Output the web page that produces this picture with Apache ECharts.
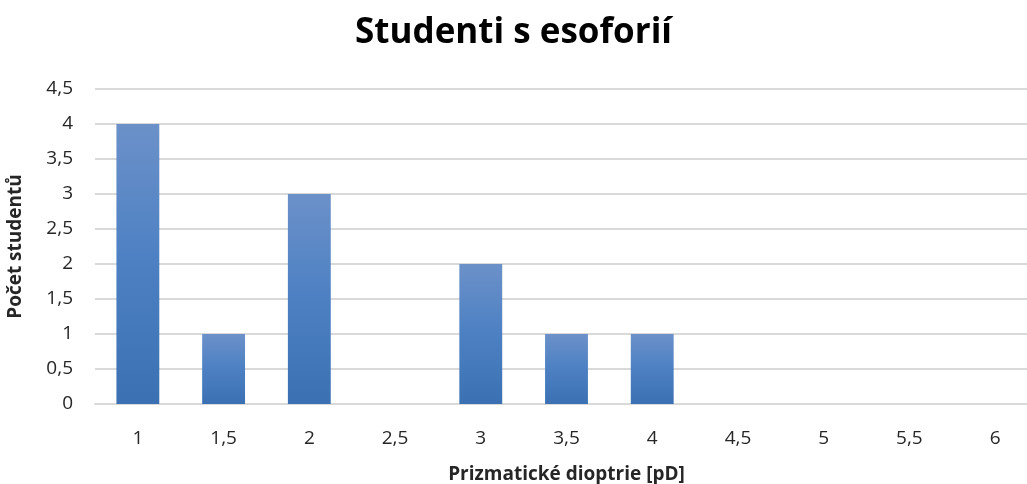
<!DOCTYPE html>
<html>
<head>
<meta charset="utf-8">
<script src="https://cdn.jsdelivr.net/npm/echarts@6/dist/echarts.min.js"></script>
<style>
  html, body { margin: 0; padding: 0; background: #fff; overflow: hidden; }
  #chart { width: 1027px; height: 484px; }
</style>
</head>
<body>
<div id="chart"></div>
<script>
// Prism dioptre values (categories) and student counts
const categories = ['1', '1,5', '2', '2,5', '3', '3,5', '4', '4,5', '5', '5,5', '6'];
const counts = [4, 1, 3, 0, 2, 1, 1, 0, 0, 0, 0];
const yTickLabels = ['0', '0,5', '1', '1,5', '2', '2,5', '3', '3,5', '4', '4,5'];

const font = '"Open Sans", Lato, sans-serif';
const chart = echarts.init(document.getElementById('chart'));

chart.setOption({
  animation: false,
  title: {
    text: 'Studenti s esoforií',
    left: 'center',
    top: 11,
    padding: [5, 5, 5, 18],
    textStyle: { fontFamily: font, fontSize: 35, fontWeight: 'bold', color: '#000' }
  },
  // plot area runs slightly past the right edge; keep it from being shrunk
  grid: { left: 95, width: 943, top: 89, bottom: 80, outerBoundsMode: 'none', containLabel: false },
  xAxis: {
    type: 'category',
    data: categories,
    name: 'Prizmatické dioptrie [pD]',
    nameLocation: 'middle',
    nameGap: 61,
    nameTextStyle: { fontFamily: font, fontSize: 19, fontWeight: 'bold', color: '#262626' },
    axisLine: { lineStyle: { color: '#d9d9d9', width: 2 } },
    axisTick: { show: false },
    axisLabel: { fontFamily: font, fontSize: 19, color: '#262626', margin: 25 }
  },
  yAxis: {
    type: 'value',
    min: 0,
    max: 4.5,
    interval: 0.5,
    name: 'Počet studentů',
    nameLocation: 'middle',
    nameGap: 70,
    nameTextStyle: { fontFamily: font, fontSize: 19, fontWeight: 'bold', color: '#262626' },
    axisLine: { show: false },
    axisTick: { show: false },
    splitLine: { lineStyle: { color: '#d9d9d9', width: 2 } },
    axisLabel: {
      fontFamily: font, fontSize: 19, color: '#262626', margin: 22,
      formatter: (v) => yTickLabels[Math.round(v / 0.5)]
    }
  },
  series: [{
    type: 'bar',
    data: counts,
    barWidth: '50%',
    itemStyle: {
      color: new echarts.graphic.LinearGradient(0, 0, 0, 1, [
        { offset: 0, color: '#6c91c9' },
        { offset: 0.5, color: '#4c80c3' },
        { offset: 1, color: '#3b71b3' }
      ])
    }
  }]
});
</script>
</body>
</html>
